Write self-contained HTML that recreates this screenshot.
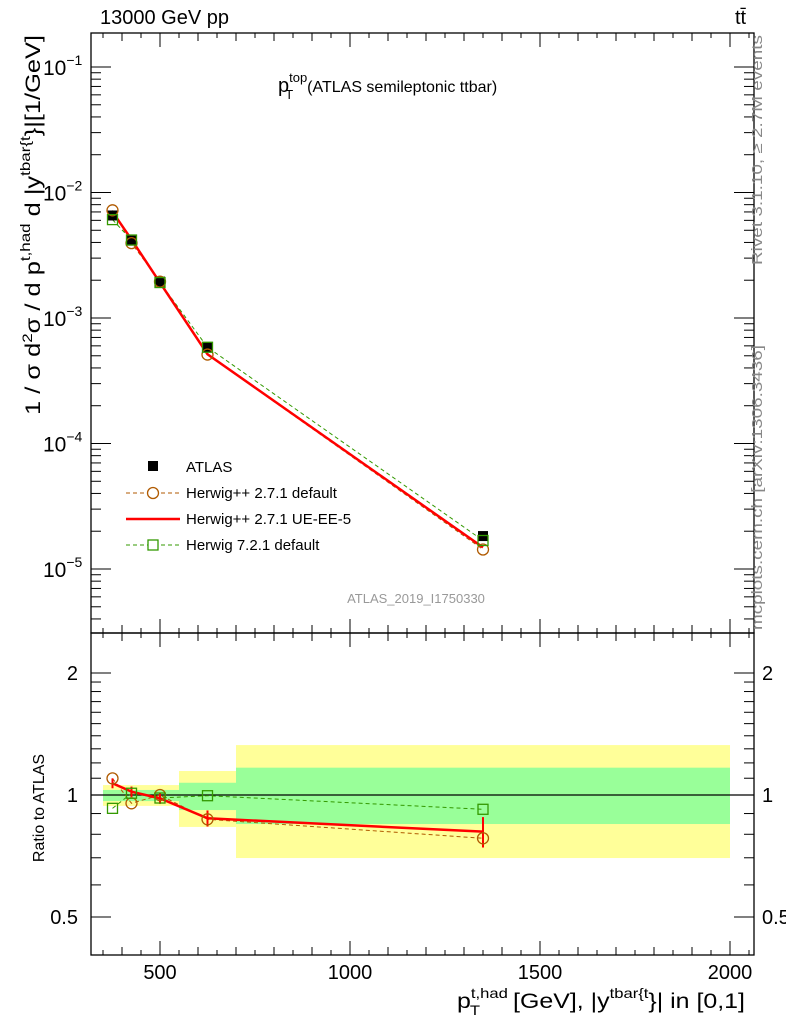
<!DOCTYPE html>
<html><head><meta charset="utf-8"><style>
body{margin:0;background:#fff}
svg{display:block;font-family:"Liberation Sans",sans-serif}
</style></head><body>
<svg id="c" width="786" height="1024" viewBox="0 0 786 1024">
<g id="g"></g>
<g font-family="Liberation Sans, sans-serif">
<text x="100" y="24" font-size="20">13000 GeV pp</text>
<text x="735" y="24" font-size="20">tt̄</text>
<text x="278" y="92" font-size="20">p<tspan dy="-10" font-size="13">top</tspan><tspan dx="-22" dy="17" font-size="13">T</tspan><tspan dx="14" dy="-7" font-size="16">(ATLAS semileptonic ttbar)</tspan></text>
<text transform="translate(40,225) rotate(-90)" font-size="21" text-anchor="middle" textLength="380" lengthAdjust="spacingAndGlyphs">1 / σ d<tspan dy="-8" font-size="14">2</tspan><tspan dy="8">σ / d p</tspan><tspan dy="-10" font-size="14">t,had</tspan><tspan dy="10"> d |y</tspan><tspan dy="-10" font-size="14">tbar{t</tspan><tspan dy="10">}|[1/GeV]</tspan></text>
<text transform="translate(44,808) rotate(-90)" font-size="16" text-anchor="middle">Ratio to ATLAS</text>
<text x="457" y="1008" font-size="21" textLength="288" lengthAdjust="spacingAndGlyphs">p<tspan dy="-10" font-size="14">t,had</tspan><tspan dx="-32" dy="17" font-size="14">T</tspan><tspan dx="22" dy="-7"> [GeV], |y</tspan><tspan dy="-10" font-size="14">tbar{t</tspan><tspan dy="10">}| in [0,1]</tspan></text>
<text transform="translate(762,265) rotate(-90)" font-size="15" fill="#888" textLength="230" lengthAdjust="spacingAndGlyphs">Rivet 3.1.10, ≥ 2.7M events</text>
<text transform="translate(762,630) rotate(-90)" font-size="15" fill="#888" textLength="285" lengthAdjust="spacingAndGlyphs">mcplots.cern.ch [arXiv:1306.3436]</text>
<text x="416" y="603" font-size="13" fill="#999" text-anchor="middle">ATLAS_2019_I1750330</text>
<g font-size="15">
<rect x="148" y="461" width="10" height="10" fill="#000"/>
<text x="186" y="472">ATLAS</text>
<line x1="126" x2="180" y1="493" y2="493" stroke="#b05a00" stroke-dasharray="4,3"/>
<circle cx="153" cy="493" r="5.5" fill="#fff" stroke="#b05a00" stroke-width="1.3"/>
<text x="186" y="498">Herwig++ 2.7.1 default</text>
<line x1="126" x2="180" y1="519" y2="519" stroke="#ff0000" stroke-width="2.5"/>
<text x="186" y="524">Herwig++ 2.7.1 UE-EE-5</text>
<line x1="126" x2="180" y1="545" y2="545" stroke="#339900" stroke-dasharray="4,3"/>
<rect x="148" y="540" width="10" height="10" fill="#fff" stroke="#339900" stroke-width="1.3"/>
<text x="186" y="550">Herwig 7.2.1 default</text>
</g>
</g>
</svg>
<script>
const xCenters=[375,425,500,625,1350];
const binEdges=[350,400,450,550,700,2000];
const atlas=[6.56e-3,4.14e-3,1.95e-3,5.87e-4,1.83e-5];
const ratioHppDef=[1.099,0.954,1.0,0.871,0.782];
const ratioUEEE5=[1.069,1.019,0.981,0.876,0.812];
const ratioH7=[0.927,1.01,0.983,0.996,0.922];
const ratioUEErr=[0.03,0.03,0.03,0.04,0.07];
const bandYellowLo=[0.94,0.94,0.94,0.834,0.699];
const bandYellowHi=[1.058,1.058,1.058,1.146,1.328];
const bandGreenLo=[0.966,0.966,0.966,0.918,0.848];
const bandGreenHi=[1.029,1.029,1.029,1.072,1.168];
const xTicks=[500,1000,1500,2000];
const yMainTicks=[-5,-4,-3,-2,-1];
const yRatioTicks=[0.5,1,2];

const NS="http://www.w3.org/2000/svg";
const G=document.getElementById('g');
function el(t,a,p){const e=document.createElementNS(NS,t);for(const k in a)e.setAttribute(k,a[k]);(p||G).appendChild(e);return e;}
const L=91,R=754,T1=33,B1=633,T2=633,B2=955;
const X=v=>160+(v-500)*0.38;
const YM=v=>67+(-1-Math.log10(v))*125.5;
const YR=r=>795-Math.log2(r)*122;

for(let i=0;i<xCenters.length;i++){
  let r=el('rect',{x:X(binEdges[i]),y:YR(bandYellowHi[i]),width:X(binEdges[i+1])-X(binEdges[i]),height:YR(bandYellowLo[i])-YR(bandYellowHi[i]),fill:'#ffff99'});
  
  
  let g2=el('rect',{x:X(binEdges[i]),y:YR(bandGreenHi[i]),width:X(binEdges[i+1])-X(binEdges[i]),height:YR(bandGreenLo[i])-YR(bandGreenHi[i]),fill:'#99ff99'});
  
  
}
el('line',{x1:L,x2:R,y1:YR(1),y2:YR(1),stroke:'#000','stroke-width':1.3});

el('rect',{x:L,y:T1,width:R-L,height:B1-T1,fill:'none',stroke:'#000','stroke-width':1.3});
el('rect',{x:L,y:T2,width:R-L,height:B2-T2,fill:'none',stroke:'#000','stroke-width':1.3});

for(let v=350;v<=2050;v+=50){
  const x=X(v);if(x<L||x>R)continue;const major=v%500===0;const med=v%100===0;
  const len=major?14:(med?8:5);
  for(const [yb,yt] of [[B1,T1],[B2,T2]]){
    el('line',{x1:x,x2:x,y1:yb,y2:yb-len,stroke:'#000'});
    el('line',{x1:x,x2:x,y1:yt,y2:yt+len,stroke:'#000'});
  }
}
xTicks.forEach(v=>{const t=el('text',{x:X(v),y:979,'font-size':20,'text-anchor':'middle'});t.textContent=v;
});

for(let d=-6;d<=0;d++){
  for(let m=1;m<10;m++){
    const v=m*Math.pow(10,d);const y=YM(v);if(y<T1||y>B1)continue;
    const len=m===1?20:10;
    el('line',{x1:L,x2:L+len,y1:y,y2:y,stroke:'#000'});
    el('line',{x1:R,x2:R-len,y1:y,y2:y,stroke:'#000'});
  }
}
yMainTicks.forEach(d=>{const t=el('text',{x:43,y:YM(Math.pow(10,d))+8,'font-size':21});
t.innerHTML='10<tspan dy="-10" font-size="14">'+String(d).replace('-','−')+'</tspan>';
});

[0.4,0.5,0.6,0.7,0.8,0.9,1,1.1,1.2,1.3,1.4,1.5,1.6,1.7,1.8,1.9,2].forEach(v=>{const y=YR(v);if(y<T2||y>B2)return;const len=(v===0.5||v===1||v===2)?20:10;
 el('line',{x1:L,x2:L+len,y1:y,y2:y,stroke:'#000'});el('line',{x1:R,x2:R-len,y1:y,y2:y,stroke:'#000'});});
yRatioTicks.forEach(v=>{const y=YR(v)+7;
 let t=el('text',{x:78,y:y,'font-size':20,'text-anchor':'end'});t.textContent=v;
 
 t=el('text',{x:762,y:y,'font-size':20});t.textContent=v;
 });

function series(vals,Y,color,dash,width,name){
  const p=el('polyline',{points:xCenters.map((x,i)=>X(x)+','+Y(vals[i])).join(' '),fill:'none',stroke:color,'stroke-width':width,'stroke-dasharray':dash||'none'});
  
}
const hpp=atlas.map((v,i)=>v*ratioHppDef[i]),ue=atlas.map((v,i)=>v*ratioUEEE5[i]),h7=atlas.map((v,i)=>v*ratioH7[i]);
series(hpp,YM,'#b05a00','4,3',1,'line-herwigpp-default');
series(h7,YM,'#339900','4,3',1,'line-herwig7-default');
series(ue,YM,'#ff0000','',2.5,'line-herwigpp-ueee5');
atlas.forEach((v,i)=>{const r=el('rect',{x:X(xCenters[i])-5,y:YM(v)-5,width:10,height:10,fill:'#000'});
 });
hpp.forEach((v,i)=>{const c=el('circle',{cx:X(xCenters[i]),cy:YM(v),r:5.5,fill:'none',stroke:'#b05a00','stroke-width':1.3});
 });
h7.forEach((v,i)=>{const c=el('rect',{x:X(xCenters[i])-5,y:YM(v)-5,width:10,height:10,fill:'none',stroke:'#339900','stroke-width':1.3});
 });

series(ratioHppDef,YR,'#b05a00','4,3',1,'ratio-herwigpp-default');
series(ratioH7,YR,'#339900','4,3',1,'ratio-herwig7-default');
series(ratioUEEE5,YR,'#ff0000','',2.5,'ratio-herwigpp-ueee5');
ratioUEEE5.forEach((v,i)=>{const x=X(xCenters[i]);
 const l=el('line',{x1:x,x2:x,y1:YR(v+ratioUEErr[i]),y2:YR(v-ratioUEErr[i]),stroke:'#ff0000','stroke-width':2});
 });
ratioHppDef.forEach((v,i)=>{const c=el('circle',{cx:X(xCenters[i]),cy:YR(v),r:5.5,fill:'none',stroke:'#b05a00','stroke-width':1.3});
 });
ratioH7.forEach((v,i)=>{const c=el('rect',{x:X(xCenters[i])-5,y:YR(v)-5,width:10,height:10,fill:'none',stroke:'#339900','stroke-width':1.3});
 });
</script>
</body></html>
